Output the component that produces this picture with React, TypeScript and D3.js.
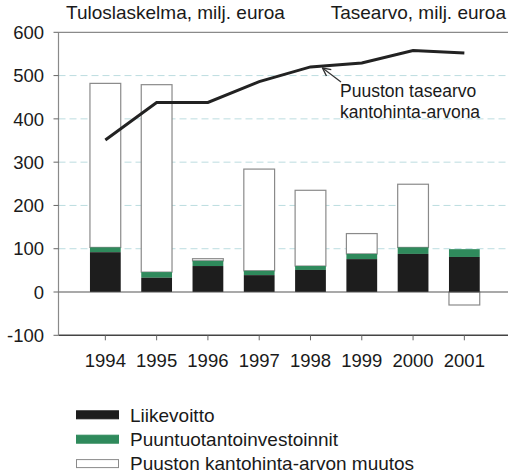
import React from "react";
import * as d3 from "d3";

const years = ["1994", "1995", "1996", "1997", "1998", "1999", "2000", "2001"];
const liikevoitto = [92, 33, 60, 39, 51, 76, 88, 81];
const investoinnit = [11, 13, 12, 10, 9, 12, 15, 18];
const muutos = [379, 433, 5, 235, 175, 47, 146, -30];
const tasearvo = [351, 438, 438, 486, 520, 529, 558, 552];
const yTicks = [-100, 0, 100, 200, 300, 400, 500, 600];
const gridTicks = [100, 200, 300, 400, 500];
const legendItems = [
  { label: "Liikevoitto", color: "#1d1d1d", stroke: "#1d1d1d" },
  { label: "Puuntuotantoinvestoinnit", color: "#2f8a5c", stroke: "#2f8a5c" },
  { label: "Puuston kantohinta-arvon muutos", color: "#ffffff", stroke: "#8a8a8a" },
];

const W = 508;
const H = 473;
const FONT = "'Liberation Sans', Arial, sans-serif";

export default function App() {
  const x = d3.scaleBand<string>().domain(years).range([79.7, 490]).paddingInner(0.4).paddingOuter(0.2);
  const y = d3.scaleLinear().domain([-100, 600]).range([335.3, 32.3]);
  const left = 58.5;
  const right = 508;
  const bw = x.bandwidth();

  const line = d3
    .line<number>()
    .x((_, i) => (x(years[i]) as number) + bw / 2)
    .y((d) => y(d));

  return (
    <div style={{ position: "absolute", left: 0, top: 0 }}>
      <svg width={W} height={H} style={{ display: "block", background: "#fff" }} fontFamily={FONT}>
        <defs>
          <marker id="arr" viewBox="0 0 10 10" refX="9" refY="5" markerWidth="10" markerHeight="10" orient="auto" markerUnits="userSpaceOnUse">
            <path d="M1,1 L9,5 L1,9" fill="none" stroke="#333" strokeWidth="1.4" />
          </marker>
        </defs>
        {/* titles */}
        <text x={66} y={19} fontSize={19} fill="#1a1a1a">Tuloslaskelma, milj. euroa</text>
        <text x={506} y={19} fontSize={19} fill="#1a1a1a" textAnchor="end">Tasearvo, milj. euroa</text>

        {/* gridlines */}
        {gridTicks.map((t) => (
          <line key={t} x1={left} x2={right} y1={y(t)} y2={y(t)} stroke="#bcdde0" strokeWidth={1} strokeDasharray="7,4" />
        ))}
        <line x1={left} x2={right} y1={y(600)} y2={y(600)} stroke="#8a8a8a" strokeWidth={1.2} />

        {/* bars */}
        {years.map((yr, i) => {
          const x0 = x(yr) as number;
          const b = liikevoitto[i];
          const g = investoinnit[i];
          const m = muutos[i];
          const top = b + g;
          const mTop = m >= 0 ? top + m : 0;
          const mBot = m >= 0 ? top : m;
          return (
            <g key={yr}>
              <rect x={x0} y={y(mTop)} width={bw} height={y(mBot) - y(mTop)} fill="#fff" stroke="#8a8a8a" strokeWidth={1.2} />
              <rect x={x0} y={y(top)} width={bw} height={y(b) - y(top)} fill="#2f8a5c" />
              <rect x={x0} y={y(b)} width={bw} height={y(0) - y(b)} fill="#1d1d1d" />
            </g>
          );
        })}

        {/* axes */}
        <line x1={left} x2={right} y1={y(0)} y2={y(0)} stroke="#555" strokeWidth={1.2} />
        <line x1={left} x2={right} y1={y(-100)} y2={y(-100)} stroke="#444" strokeWidth={1.4} />
        <line x1={left} x2={left} y1={y(600)} y2={y(-100)} stroke="#8a8a8a" strokeWidth={1.2} />
        {yTicks.map((t) => (
          <g key={t}>
            <line x1={left - 5} x2={left} y1={y(t)} y2={y(t)} stroke="#666" strokeWidth={1} />
            <text x={44} y={y(t)} dy="0.36em" fontSize={18.5} fill="#1a1a1a" textAnchor="end">{t}</text>
          </g>
        ))}
        {years.map((yr) => {
          const cx = (x(yr) as number) + bw / 2;
          return (
            <g key={yr}>
              <line x1={cx} x2={cx} y1={y(-100)} y2={y(-100) + 5} stroke="#666" strokeWidth={1} />
              <text x={cx} y={366.5} fontSize={18.5} fill="#1a1a1a" textAnchor="middle">{yr}</text>
            </g>
          );
        })}

        {/* line */}
        <path d={line(tasearvo) || ""} fill="none" stroke="#222" strokeWidth={3} strokeLinejoin="miter" />

        {/* annotation */}
        <line x1={341} y1={82} x2={322.5} y2={68} stroke="#333" strokeWidth={1.2} markerEnd="url(#arr)" />
        <text x={340} y={97} fontSize={17.5} fill="#1a1a1a">Puuston tasearvo</text>
        <text x={340} y={118} fontSize={17.5} fill="#1a1a1a">kantohinta-arvona</text>

        {/* legend */}
        {legendItems.map((it, i) => {
          const cy = 414.8 + i * 24.4;
          return (
            <g key={it.label}>
              <rect x={76.5} y={cy - 4} width={42} height={8} fill={it.color} stroke={it.stroke} strokeWidth={1} />
              <text x={130} y={cy} dy="0.36em" fontSize={19} fill="#1a1a1a">{it.label}</text>
            </g>
          );
        })}
      </svg>
    </div>
  );
}
